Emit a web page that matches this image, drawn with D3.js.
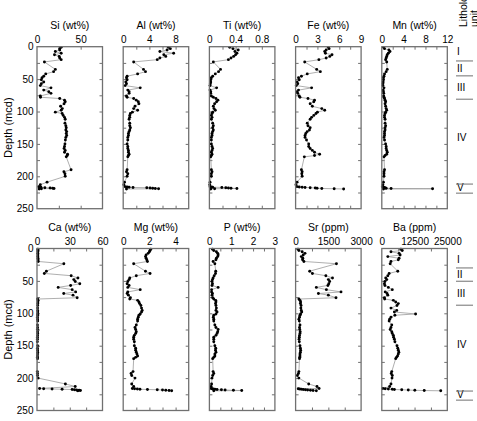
<!DOCTYPE html>
<html><head><meta charset="utf-8">
<script src="https://cdn.jsdelivr.net/npm/d3@7"></script>
<style>
body{margin:0;background:#fff}
svg{display:block}
text{font-family:"Liberation Sans",Arial,Helvetica,sans-serif;fill:#000}
</style>
</head><body>
<svg id="c" width="477" height="421"></svg>
<script>
// ---------- data ----------
const depth = [1,3,5,7.5,10,12.5,15,17.5,20,23.5,
  35,38.5,42,45.5,48,51,54.5,57,60,63.5,
  67,69.5,72,76,78,80,82.5,85,88,92,
  95.5,98,101,103,106,109,112,118,122,125,
  128.5,131,134,137,140,144,150,154,157,160,
  163,166,168,170,190,193,196,200,209,213,
  216,216.4,216.8,217.2,217.6,218,218.4,218.8,219.2,219.6];

const Si = [27.7,26,26,21,27.7,20,25.4,26,27.7,8.5,
  21,19,10,7.7,5.8,5,7.7,5,3.8,16,
  7.7,13.5,16,3.8,4,26,31.5,32.3,31,27,
  29,27.7,21,28.8,30,31.5,32.3,32,33,33.5,
  33,34,33.5,34,33,32.5,32,31.5,31,32.3,
  31.5,35,34.6,33.5,39,30.8,32,32.3,11.5,3.8,
  2,3,4.5,3.5,9,15,18,19.5,5,2.5];
const Al = [6.9,7.2,6.7,5.6,7.7,6.2,6.5,5.6,5.2,1.6,
  3.1,3.4,2.2,0.6,0.5,0.6,0.4,0.5,0.3,2.6,
  0.7,0.9,0.9,0.5,0.6,1.6,2.0,2.3,2.4,1.8,
  1.6,2.2,1.4,1.1,1.0,1.0,0.9,1.0,1.0,1.1,
  1.0,0.9,0.8,0.8,0.7,0.7,0.6,0.7,0.7,0.8,
  0.8,0.9,0.8,0.7,0.6,0.5,0.7,0.6,0.2,0.1,
  0.3,0.6,0.9,1.5,3.6,4.1,4.5,4.9,5.4,0.5];
const Ti = [0.31,0.36,0.44,0.39,0.42,0.40,0.37,0.33,0.29,0.06,
  0.17,0.14,0.09,0.05,0.03,0.02,0.02,0.015,0.01,0.11,
  0.01,0.02,0.02,0.03,0.06,0.1,0.13,0.11,0.08,0.06,
  0.07,0.09,0.05,0.04,0.03,0.04,0.03,0.05,0.06,0.05,
  0.06,0.05,0.04,0.04,0.03,0.03,0.03,0.04,0.05,0.04,
  0.03,0.04,0.03,0.02,0.03,0.04,0.03,0.03,0.01,0.005,
  0.01,0.03,0.05,0.19,0.25,0.29,0.33,0.42,0.08,0.02];
const Fe = [4.5,4.6,4.2,4.0,4.1,5.0,4.7,4.2,3.2,1.25,
  2.9,3.4,1.6,0.8,0.4,0.5,0.2,0.3,0.1,2.2,
  0.4,0.2,0.3,0.5,0.6,1.7,2.6,2.5,2.0,2.3,
  3.6,4.0,3.0,2.8,2.5,2.2,2.0,1.6,1.7,2.0,
  1.9,1.6,1.4,1.3,1.3,1.5,1.8,1.8,2.0,2.3,
  2.6,3.3,2.6,1.2,0.8,0.9,0.85,0.9,0.2,0.05,
  0.2,0.5,0.9,1.3,2.0,2.7,2.95,3.6,5.3,6.6];
const Mn = [0.3,0.5,1.3,1.5,1.2,1.0,0.9,0.8,0.7,0.9,
  1.0,0.8,0.5,0.4,0.3,0.3,0.25,0.2,0.2,0.4,
  0.25,0.3,0.35,0.35,0.4,0.5,0.6,0.7,0.6,0.7,
  0.8,0.9,0.7,0.6,0.5,0.5,0.6,0.6,0.7,0.6,
  0.6,0.5,0.5,0.5,0.4,0.5,0.7,0.8,0.8,0.9,
  1.0,0.9,0.6,0.4,0.5,0.4,0.4,0.4,0.3,0.2,
  0.1,0.2,0.3,0.4,0.5,0.6,0.8,1.7,9.3,0.3];
const Ca = [0.8,0.9,0.8,0.7,0.8,0.7,0.9,1.0,1.1,24.6,
  8.6,6.7,31.3,37.5,33.7,35,39.2,30.8,19.4,32.2,
  35.4,24.5,33,36.8,0.5,1.0,0.8,0.7,0.6,0.5,
  0.6,0.7,0.5,0.6,0.4,0.5,0.6,0.4,0.5,0.4,
  0.5,0.6,0.5,0.4,0.4,0.3,0.5,0.4,0.5,0.6,
  0.5,0.4,0.4,0.5,0.3,0.4,0.4,1.0,26,35,
  2.4,6.1,13.8,23,32.2,34.3,36.2,38.6,39.8,37.4];
const Mg = [2.1,2.05,2.0,1.9,1.75,1.7,1.75,1.8,1.85,0.8,
  1.7,2.05,1.0,0.5,0.45,0.35,0.3,0.45,0.35,1.3,
  0.35,0.3,0.4,0.55,0.5,1.1,1.2,1.25,1.35,1.4,
  1.45,1.4,1.3,1.2,1.15,1.1,1.1,1.0,0.9,0.95,
  1.0,0.95,0.85,0.8,0.8,0.85,0.85,0.95,0.95,1.0,
  1.05,1.1,0.95,0.8,0.75,0.6,0.65,0.9,0.65,0.8,
  0.7,0.87,1.08,1.28,1.85,2.6,3.0,3.25,3.5,3.7];
const P = [0.14,0.2,0.32,0.38,0.4,0.38,0.32,0.3,0.17,0.25,
  0.29,0.28,0.22,0.17,0.14,0.12,0.14,0.12,0.4,0.1,
  0.1,0.14,0.12,0.15,0.2,0.29,0.3,0.28,0.3,0.32,
  0.3,0.35,0.3,0.2,0.18,0.2,0.2,0.25,0.3,0.4,
  0.38,0.35,0.3,0.2,0.2,0.2,0.25,0.29,0.28,0.3,
  0.25,0.25,0.2,0.15,0.17,0.2,0.15,0.12,0.1,0.08,
  0.08,0.12,0.17,0.25,0.35,0.55,0.72,1.1,1.48,0.2];
const Sr = [110,150,300,430,350,260,330,320,380,1870,
  646,770,1385,1690,1500,1560,1520,1480,950,1410,
  2080,1045,1500,1850,150,200,230,220,250,240,
  260,280,230,200,180,150,170,200,180,190,
  210,200,180,170,160,170,200,220,230,220,
  200,200,190,180,150,130,80,150,600,980,
  1075,120,180,260,350,450,550,680,800,950];
const Ba = [7300,7800,3500,6600,7000,2300,6600,6300,3500,3200,
  6100,2800,2300,1500,1900,1200,1000,1200,2500,4000,
  1300,2000,2300,1000,1100,4400,5300,6300,5800,3500,
  5700,4800,12900,5000,3500,3000,2800,3800,3500,3200,
  3800,4000,4400,4500,4800,5000,5800,6100,6300,6500,
  6300,6000,5600,5300,3800,3600,4000,3900,3500,3000,
  400,1300,2500,4000,4800,7600,10100,12600,16200,22500];

const titles = ["Si (wt%)","Al (wt%)","Ti (wt%)","Fe (wt%)","Mn (wt%)",
                "Ca (wt%)","Mg (wt%)","P (wt%)","Sr (ppm)","Ba (ppm)"];
const seriesList = [Si,Al,Ti,Fe,Mn,Ca,Mg,P,Sr,Ba];
const domainMax = [75,10,1,9,12, 60,5,3,3000,25000];
const tickLabels = [[0,50],[0,4,8],[0,0.4,0.8],[0,3,6,9],[0,4,8,12],
                    [0,30,60],[0,2,4],[0,1,2,3],[0,1500,3000],[0,12500,25000]];
const tickStep = [25,2,0.2,1.5,2, 15,1,0.5,750,6250];

const depthDomain = [0,250];
const depthLabels = [0,50,100,150,200,250];
const depthMinor = [25,50,75,100,125,150,175,200,225];

const unitNames = ["I","II","III","IV","V"];
const unitLabelDepth = [[8,34,63,140,218],[17,40,69,148,226]];
const unitLineDepth = [[22,45,81,212,226],[30,50.5,87.5,220,234]];

// ---------- layout ----------
const svg = d3.select("#c");
const font = '"Liberation Sans",Arial,Helvetica,sans-serif';
const frameColor = "#707070";
const panelLeft = 37, panelStep = 86.2, panelW = 65.5;
const rowTop = [46.7, 248.5], rowH = 162;

function styleAxis(g){
  g.select(".domain").remove();
  g.selectAll("line").attr("stroke", frameColor).attr("stroke-width",1);
  g.attr("font-family", font);
}

for (let r = 0; r < 2; r++) {
  const y0 = rowTop[r];
  const y = d3.scaleLinear().domain(depthDomain).range([y0, y0 + rowH]);

  for (let c = 0; c < 5; c++) {
    const i = r*5 + c;
    const x0 = panelLeft + c*panelStep;
    const x = d3.scaleLinear().domain([0, domainMax[i]]).range([x0, x0 + panelW]);
    const g = svg.append("g");
    const minor = d3.range(tickStep[i], domainMax[i] - 1e-9, tickStep[i]);

    // inward ticks
    g.append("g").attr("transform",`translate(0,${y0})`)
      .call(d3.axisBottom(x).tickValues(minor).tickSize(3).tickFormat(""))
      .call(styleAxis);
    g.append("g").attr("transform",`translate(0,${y0+rowH})`)
      .call(d3.axisTop(x).tickValues(minor).tickSize(3).tickFormat(""))
      .call(styleAxis);
    g.append("g").attr("transform",`translate(${x0},0)`)
      .call(d3.axisRight(y).tickValues(depthMinor).tickSize(3).tickFormat(""))
      .call(styleAxis);
    g.append("g").attr("transform",`translate(${x0+panelW},0)`)
      .call(d3.axisLeft(y).tickValues(depthMinor).tickSize(3).tickFormat(""))
      .call(styleAxis);

    // top tick labels
    g.append("g").attr("transform",`translate(0,${y0})`)
      .call(d3.axisTop(x).tickValues(tickLabels[i]).tickSize(0).tickPadding(4).tickFormat(d=>String(d)))
      .call(styleAxis)
      .attr("font-size",10);

    // y labels on first column
    if (c === 0) {
      g.append("g").attr("transform",`translate(${x0},0)`)
        .call(d3.axisLeft(y).tickValues(depthLabels).tickSize(0).tickPadding(3.5).tickFormat(d=>String(d)))
        .call(styleAxis)
        .attr("font-size",10);
      svg.append("text")
        .attr("transform",`translate(11.5,${y0+rowH/2}) rotate(-90)`)
        .attr("text-anchor","middle")
        .attr("font-size",11)
        .text("Depth (mcd)");
    }

    // title
    g.append("text")
      .attr("x", x0 + panelW/2).attr("y", y0 - 17.5)
      .attr("text-anchor","middle").attr("font-size",10.5)
      .text(titles[i]);

    // data
    const pts = depth.map((d,k)=>({d, v: seriesList[i][k]}));
    g.append("path").datum(pts)
      .attr("fill","none").attr("stroke","#9a9a9a").attr("stroke-width",0.8)
      .attr("d", d3.line().x(p=>x(p.v)).y(p=>y(p.d)));
    g.selectAll("circle").data(pts).join("circle")
      .attr("cx",p=>x(p.v)).attr("cy",p=>y(p.d)).attr("r",1.45).attr("fill","#000");

    // frame
    g.append("rect").attr("x",x0).attr("y",y0).attr("width",panelW).attr("height",rowH)
      .attr("fill","none").attr("stroke",frameColor).attr("stroke-width",1.3);
  }

  // lithologic units
  const ug = svg.append("g");
  unitNames.forEach((u,k)=>{
    ug.append("text").attr("x",457).attr("y", y(unitLabelDepth[r][k]))
      .attr("dy","0.35em").attr("font-size",10).text(u);
  });
  unitLineDepth[r].forEach(d=>{
    ug.append("line").attr("x1",456).attr("x2",473)
      .attr("y1",y(d)).attr("y2",y(d))
      .attr("stroke",frameColor).attr("stroke-width",1);
  });
}

svg.append("text").attr("transform","translate(467,27) rotate(-90)")
  .attr("font-size",10.5).text("Lithologic");
svg.append("text").attr("transform","translate(477.5,27) rotate(-90)")
  .attr("font-size",10.5).text("unit");
</script>
</body></html>
